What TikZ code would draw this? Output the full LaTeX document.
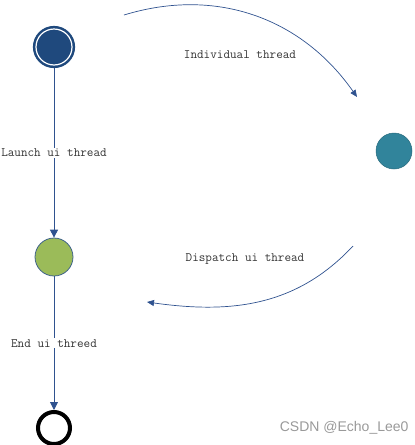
\documentclass[tikz,border=0pt]{standalone}
\usepackage{fontspec}
\usepackage{tikz}
\usetikzlibrary{arrows.meta,positioning}
\newfontfamily\marksans{Liberation Sans}
\definecolor{startblue}{RGB}{31,73,125}
\definecolor{linkblue}{RGB}{47,82,143}
\definecolor{tealball}{RGB}{49,132,155}
\definecolor{greenball}{RGB}{155,187,89}
\definecolor{greenedge}{RGB}{56,93,138}

\begin{document}
\begin{tikzpicture}[
  x=1pt, y=-1pt,
  state/.style={circle, inner sep=0pt},
  lbl/.style={font=\ttfamily\fontsize{12.8}{14}\selectfont, text=black!80, inner sep=1pt},
  flow/.style={draw=linkblue, line width=0.9pt, -{Triangle[width=8pt,length=8pt]}},
  arcflow/.style={draw=linkblue, line width=0.7pt, -{Triangle[width=6pt,length=7pt]}}
]
\useasboundingbox (0,0) rectangle (415,445);

% states
\node[state, fill=startblue, draw=startblue, double=white, double distance=1.2pt,
  line width=2.5pt, minimum size=36pt, outer sep=3.1pt] (start) at (54,47) {};
\node[state, fill=tealball, draw=tealball!80!black, line width=0.5pt,
  minimum size=36pt] (worker) at (394,151) {};
\node[state, fill=greenball, draw=greenedge, line width=0.75pt,
  minimum size=38pt] (ui) at (54,257) {};
\node[state, draw=black, line width=4pt, minimum size=32pt, outer sep=2pt]
  (stop) at (54,428) {};

% straight flows
\draw[flow] (start) -- node[lbl, fill=white] (launch) {Launch ui thread} (ui);
\draw[flow] (ui) -- node[lbl, fill=white] (finish) {End ui threed} (stop);

% curved flows
\coordinate (goA) at (124,15);
\coordinate (goB) at (357,97);
\coordinate (backA) at (353,246);
\coordinate (backB) at (147,302);
\draw[arcflow] (goA) to[out=17, in=125] (goB);
\draw[arcflow] (backA) to[out=-133, in=-8] (backB);

\node[lbl] (indiv) at (240,55) {Individual thread};
\node[lbl] (dispatch) at (245,259) {Dispatch ui thread};

% watermark
\node[font=\marksans\fontsize{14}{16}\selectfont, text=black!40, anchor=east]
  (mark) at (412,428) {CSDN @Echo\_Lee0};
\end{tikzpicture}
\end{document}
